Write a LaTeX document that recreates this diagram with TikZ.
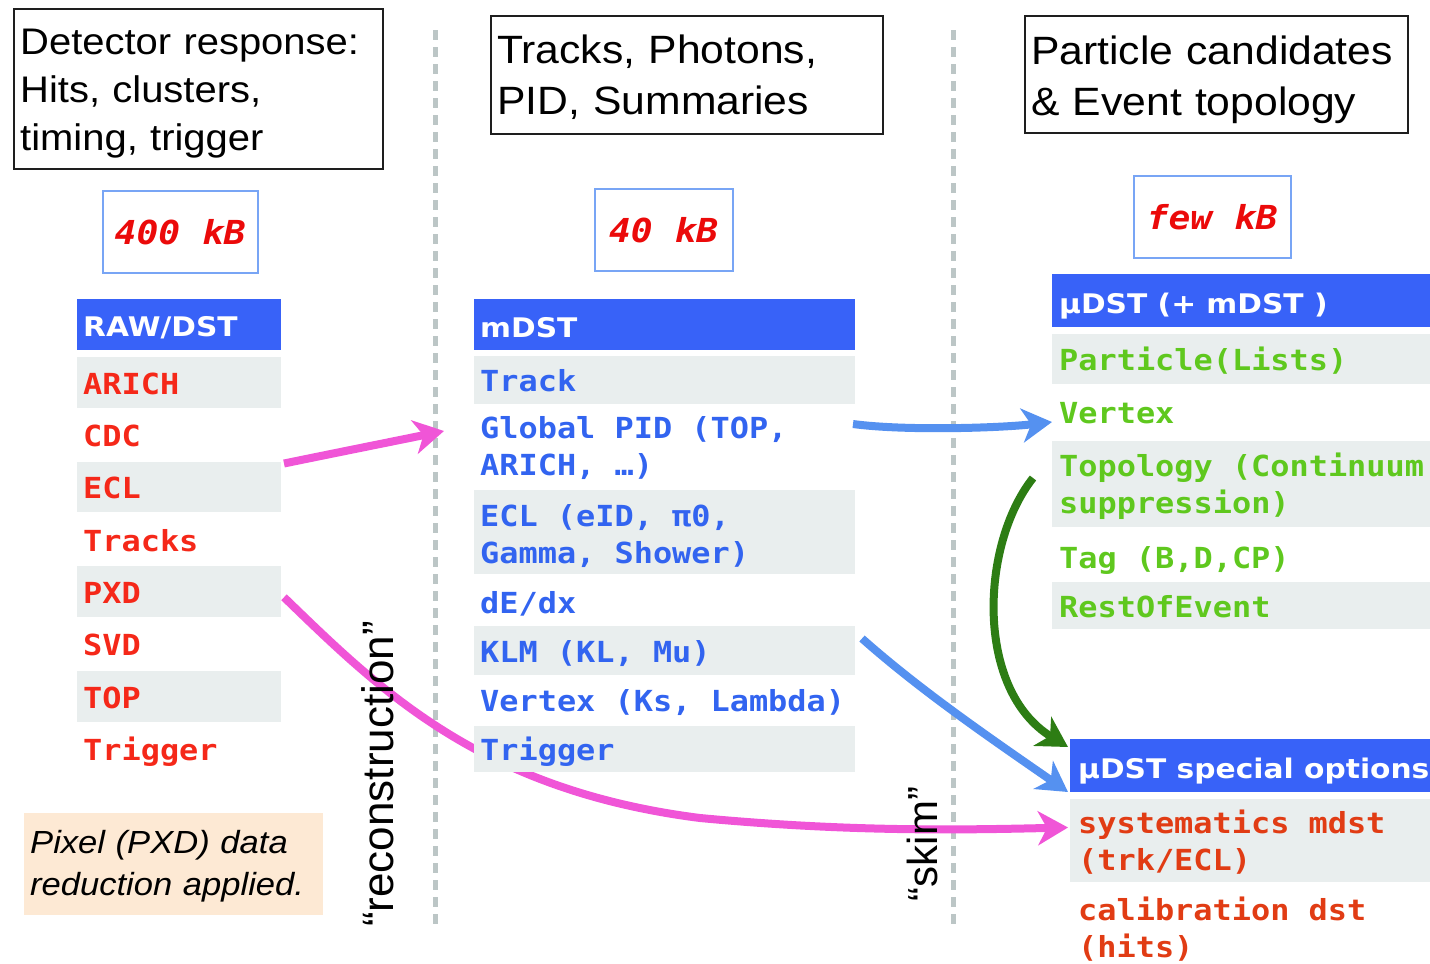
\documentclass[tikz,border=0pt]{standalone}
\usepackage{fontspec}
\usetikzlibrary{arrows.meta}
\newfontfamily\monof[FakeStretch=1.1]{DejaVu Sans Mono}
\newfontfamily\hdrf[FakeStretch=1.1]{DejaVu Sans}
\newfontfamily\helvf[FakeStretch=1.08]{Liberation Sans}
\newfontfamily\helvplain{Liberation Sans}
\newcommand\msp{\hspace*{0.6622em}}
\definecolor{pinkc}{RGB}{240,85,215}
\definecolor{arrblue}{RGB}{85,145,240}
\definecolor{dgreen}{RGB}{45,125,20}
\definecolor{redtxt}{RGB}{245,40,25}
\definecolor{bluetxt}{RGB}{50,100,240}
\definecolor{greentxt}{RGB}{95,200,30}
\definecolor{orangetxt}{RGB}{225,60,20}
\definecolor{sizered}{RGB}{235,10,10}
\definecolor{cellgray}{RGB}{233,238,238}
\definecolor{hdrblue}{RGB}{56,98,248}
\definecolor{peach}{RGB}{253,233,212}
\definecolor{dashgray}{RGB}{188,198,198}
\definecolor{sizeborder}{RGB}{120,165,245}
\definecolor{boxline}{RGB}{30,30,30}
\pgfdeclarelayer{background}
\pgfsetlayers{background,main}
\begin{document}
\begin{tikzpicture}[x=1pt,y=-1pt,
  cellg/.style={anchor=north west, inner sep=0pt, outer sep=0pt, fill=cellgray},
  cellw/.style={anchor=north west, inner sep=0pt, outer sep=0pt},
  hdrcell/.style={anchor=north west, inner sep=0pt, outer sep=0pt, fill=hdrblue},
  hdrtxt/.style={anchor=base west, inner sep=0pt, text=white, font=\hdrf\bfseries\fontsize{27}{32}\selectfont},
  monotxt/.style={anchor=base west, inner sep=0pt, text width=420pt, font=\monof\bfseries\fontsize{29}{37}\selectfont},
  ltxt/.style={monotxt, text=redtxt},
  mtxt/.style={monotxt, text=bluetxt},
  rtxt/.style={monotxt, text=greentxt},
  otxt/.style={monotxt, text=orangetxt},
  sizebox/.style={anchor=north west, draw=sizeborder, line width=1.5pt, inner sep=0pt, text=sizered, font=\monof\bfseries\itshape\fontsize{33}{40}\selectfont},
  topbox/.style={anchor=north west, draw=boxline, line width=1.6pt, inner sep=0pt},
  toptxt/.style={anchor=base west, inner sep=0pt, text width=420pt},
  fatarrow/.style={line width=8pt, -{Stealth[length=30pt,width=34pt,inset=9pt]}},
  sepline/.style={draw=dashgray, line width=5pt, dash pattern=on 10pt off 7pt}
]
\useasboundingbox (0,0) rectangle (1430,964);

% top boxes
\node[topbox, minimum width=369pt, minimum height=160pt] (tb1) at (13,8) {};
\node[toptxt, font=\helvf\fontsize{37}{48}\selectfont] (tb1t) at (20,54) {Detector~response:\\Hits,~clusters,\\timing,~trigger};
\node[topbox, minimum width=392pt, minimum height=118pt] (tb2) at (490,15) {};
\node[toptxt, font=\helvf\fontsize{39.5}{51}\selectfont] (tb2t) at (497,63) {Tracks,~Photons,\\PID,~Summaries};
\node[topbox, minimum width=383pt, minimum height=117pt] (tb3) at (1024,15) {};
\node[toptxt, font=\helvf\fontsize{39.5}{51}\selectfont] (tb3t) at (1031,64) {Particle~candidates\\\&~Event~topology};

% size boxes
\node[sizebox, minimum width=155pt, minimum height=82pt] (s1) at (102,190) {400\msp kB};
\node[sizebox, minimum width=138pt, minimum height=82pt] (s2) at (594,188) {40\msp kB};
\node[sizebox, minimum width=157pt, minimum height=82pt] (s3) at (1133,175) {few\msp kB};

% left column
\node[hdrcell, minimum width=204pt, minimum height=51pt] (lHdr) at (77,299) {};
\node[hdrtxt] (lHdrT) at (83,336) {RAW/DST};
\node[cellg, minimum width=204pt, minimum height=50.5pt] (lARICH) at (77,357) {};
\node[cellw, minimum width=204pt, minimum height=51pt] (lCDC) at (77,409) {};
\node[cellg, minimum width=204pt, minimum height=50.5pt] (lECL) at (77,461.5) {};
\node[cellw, minimum width=204pt, minimum height=51pt] (lTracks) at (77,514) {};
\node[cellg, minimum width=204pt, minimum height=50.5pt] (lPXD) at (77,566) {};
\node[cellw, minimum width=204pt, minimum height=51pt] (lSVD) at (77,618.5) {};
\node[cellg, minimum width=204pt, minimum height=50.5pt] (lTOP) at (77,671) {};
\node[cellw, minimum width=204pt, minimum height=51pt] (lTrig) at (77,723) {};
\node[ltxt] (lt1) at (83,394) {ARICH};
\node[ltxt] (lt2) at (83,446) {CDC};
\node[ltxt] (lt3) at (83,498.5) {ECL};
\node[ltxt] (lt4) at (83,551) {Tracks};
\node[ltxt] (lt5) at (83,603) {PXD};
\node[ltxt] (lt6) at (83,655.5) {SVD};
\node[ltxt] (lt7) at (83,708) {TOP};
\node[ltxt] (lt8) at (83,760) {Trigger};

% middle column
\node[hdrcell, minimum width=381pt, minimum height=51pt] (mHdr) at (474,299) {};
\node[hdrtxt] (mHdrT) at (480,337) {mDST};
\node[cellg, minimum width=381pt, minimum height=48pt] (mTrack) at (474,356) {};
\node[cellw, minimum width=381pt, minimum height=86pt] (mPID) at (474,404) {};
\node[cellg, minimum width=381pt, minimum height=84pt] (mECL) at (474,490) {};
\node[cellw, minimum width=381pt, minimum height=52pt] (mdEdx) at (474,574) {};
\node[cellg, minimum width=381pt, minimum height=49pt] (mKLM) at (474,626) {};
\node[cellw, minimum width=381pt, minimum height=51pt] (mVertex) at (474,675) {};
\node[cellg, minimum width=381pt, minimum height=46pt] (mTrig) at (474,726) {};
\node[mtxt] (mt1) at (480,391) {Track};
\node[mtxt] (mt2) at (480,438) {Global\msp PID\msp (TOP,\\ARICH,\msp …)};
\node[mtxt] (mt3) at (480,526) {ECL\msp (eID,\msp π0,\\Gamma,\msp Shower)};
\node[mtxt] (mt4) at (480,613) {dE/dx};
\node[mtxt] (mt5) at (480,662) {KLM\msp (KL,\msp Mu)};
\node[mtxt] (mt6) at (480,711) {Vertex\msp (Ks,\msp Lambda)};
\node[mtxt] (mt7) at (480,760) {Trigger};

% right column
\node[hdrcell, minimum width=378pt, minimum height=53pt] (rHdr) at (1052,274) {};
\node[hdrtxt] (rHdrT) at (1059,313) {µDST (+ mDST )};
\node[cellg, minimum width=378pt, minimum height=50pt] (rPart) at (1052,334) {};
\node[cellw, minimum width=378pt, minimum height=57pt] (rVertex) at (1052,384) {};
\node[cellg, minimum width=378pt, minimum height=86pt] (rTopo) at (1052,441) {};
\node[cellw, minimum width=378pt, minimum height=55pt] (rTag) at (1052,527) {};
\node[cellg, minimum width=378pt, minimum height=47pt] (rRest) at (1052,582) {};
\node[rtxt] (rt1) at (1059,370) {Particle(Lists)};
\node[rtxt] (rt2) at (1059,423) {Vertex};
\node[rtxt] (rt3) at (1059,476) {Topology\msp (Continuum\\suppression)};
\node[rtxt] (rt4) at (1059,568) {Tag\msp (B,D,CP)};
\node[rtxt] (rt5) at (1059,617) {RestOfEvent};

% lower right
\node[hdrcell, minimum width=360pt, minimum height=53pt] (rHdr2) at (1070,739) {};
\node[hdrtxt] (rHdr2T) at (1078,778) {µDST special options};
\node[cellg, minimum width=360pt, minimum height=83pt] (rSys) at (1070,799) {};
\node[cellw, minimum width=360pt, minimum height=82pt] (rCal) at (1070,882) {};
\node[otxt] (ot1) at (1078,833) {systematics\msp mdst\\(trk/ECL)};
\node[otxt] (ot2) at (1078,920) {calibration\msp dst\\(hits)};

% pixel note
\node[anchor=north west, fill=peach, minimum width=299pt, minimum height=102pt, inner sep=0pt] (pix) at (24,813) {};
\node[toptxt, font=\helvf\itshape\fontsize{32}{42}\selectfont] (pixt) at (30,853) {Pixel~(PXD)~data\\reduction~applied.};

% rotated labels
\node[rotate=90, inner sep=0pt, font=\helvplain\fontsize{44}{50}\selectfont] (recon) at (378,774) {“reconstruction”};
\node[rotate=90, inner sep=0pt, font=\helvplain\fontsize{42}{50}\selectfont] (skim) at (922,844) {“skim”};

\coordinate (d1a) at (435,30);
\coordinate (d1b) at (435,930);
\coordinate (d2a) at (953,30);
\coordinate (d2b) at (953,930);
\coordinate (p1e) at (444,431);

\begin{pgfonlayer}{background}
  \draw[sepline] (d1a) -- (d1b);
  \draw[sepline] (d2a) -- (d2b);
  \draw[fatarrow, draw=pinkc] ([xshift=3pt,yshift=-2pt]lECL.north east) .. controls (340,452) and (395,441) .. (p1e);
  \draw[fatarrow, draw=pinkc] ([xshift=3pt,yshift=-6pt]lPXD.east) .. controls (380,690) and (480,790) .. (700,818) .. controls (850,832) and (960,830) .. ([xshift=-2pt,yshift=13pt]rSys.west);
  \draw[fatarrow, draw=arrblue] ([xshift=-2pt,yshift=23pt]mPID.east) .. controls (905,431) and (1000,428) .. ([yshift=-9.5pt]rVertex.west);
  \draw[fatarrow, draw=arrblue] ([xshift=7pt,yshift=12pt]mKLM.east) .. controls (920,690) and (990,738) .. ([xshift=-2pt]rHdr2.south west);
  \draw[fatarrow, draw=dgreen] ([xshift=-19pt,yshift=6pt]rTopo.west) .. controls (980,545) and (975,690) .. ([xshift=-2pt,yshift=-8pt]rHdr2.north west);
\end{pgfonlayer}
\end{tikzpicture}
\end{document}
